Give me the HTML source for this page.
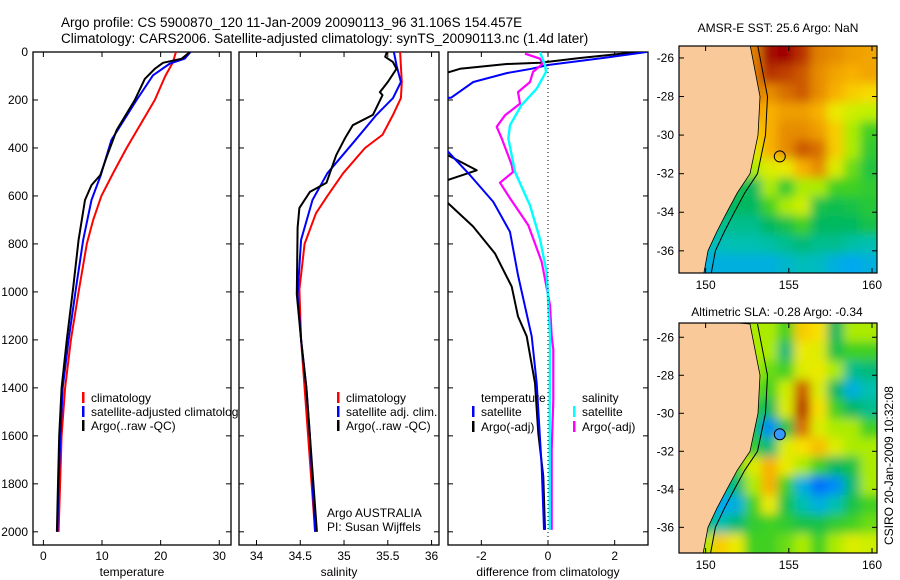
<!DOCTYPE html>
<html><head><meta charset="utf-8">
<style>
html,body{margin:0;padding:0;background:#fff;}
svg{display:block;font-family:"Liberation Sans",sans-serif;}
</style></head>
<body>
<svg id="fig" width="900" height="580" viewBox="0 0 900 580">
<defs>
<filter id="blur" x="-5%" y="-5%" width="110%" height="110%"><feGaussianBlur stdDeviation="5"/></filter>
<clipPath id="cp1"><rect x="33" y="52" width="198" height="493"/></clipPath>
<clipPath id="cp2"><rect x="239" y="52" width="200" height="493"/></clipPath>
<clipPath id="cp3"><rect x="448" y="52" width="200" height="493"/></clipPath>
<clipPath id="cm1"><rect x="679" y="46" width="198" height="227"/></clipPath>
<clipPath id="cm2"><rect x="679" y="323" width="198" height="230"/></clipPath>
</defs>
<text x="61" y="27" font-size="13.5">Argo profile: CS 5900870_120 11-Jan-2009 20090113_96 31.106S 154.457E</text>
<text x="61" y="43" font-size="13.5">Climatology: CARS2006. Satellite-adjusted climatology: synTS_20090113.nc (1.4d later)</text>
<text x="778" y="32" font-size="12" text-anchor="middle">AMSR-E SST: 25.6 Argo: NaN</text>
<text x="777" y="316" font-size="12" text-anchor="middle">Altimetric SLA: -0.28 Argo: -0.34</text>
<text x="0" y="0" font-size="12" transform="translate(893,545) rotate(-90)">CSIRO 20-Jan-2009 10:32:08</text>
<g id="layer"></g>
</svg>
<script>
// ---- Temperature panel data ----
const tempClimDepth=[0,42,100,200,300,400,500,600,700,800,1000,1200,1400,1600,1800,2000];
const tempClim=[22.6,22.1,20.8,19.0,16.6,14.2,12.0,9.9,8.5,7.4,6.0,4.7,3.7,3.1,2.85,2.6];
const tempSatDepth=[0,28,48,97,200,367,513,617,783,978,1200,1400,1600,1800,2000];
const tempSat=[25.1,24.1,21.6,18.7,15.9,11.6,9.8,8.2,6.8,5.6,4.3,3.3,2.9,2.6,2.4];
const tempArgoDepth=[0,28,45,70,112,200,240,325,437,513,555,617,783,978,1200,1400,1600,1800,2000];
const tempArgo=[25,23.6,20.4,19.0,17.3,15.6,14.6,12.5,10.8,9.7,8.2,7.1,6.0,5.1,4.0,3.1,2.7,2.5,2.3];
// ---- Salinity panel data ----
const salClimDepth=[0,125,192,262,345,400,505,600,672,800,990,1200,1400,1600,1800,2000];
const salClim=[35.64,35.66,35.65,35.56,35.44,35.24,34.99,34.81,34.68,34.55,34.49,34.51,34.55,34.59,34.63,34.67];
const salSatDepth=[0,55,125,192,262,372,505,617,783,1010,1200,1400,1600,1800,2000];
const salSat=[35.57,35.60,35.65,35.56,35.37,35.12,34.81,34.64,34.51,34.47,34.51,34.57,34.61,34.64,34.67];
const salArgoDepth=[0,20,42,70,125,167,180,262,305,360,430,545,583,650,733,1010,1200,1400,1600,1800,2000];
const salArgo=[35.49,35.47,35.56,35.60,35.50,35.41,35.44,35.33,35.10,35.01,34.91,34.80,34.61,34.49,34.47,34.46,34.51,34.57,34.61,34.65,34.69];
// ---- Difference panel data ----
const dTempSatDepth=[0,25,54,70,88,125,190,200,400,415,513,625,750,930,1185,1380,1730,1992];
const dTempSat=[2.96,1.65,0.0,-0.5,-1.24,-2.24,-2.9,-3.6,-3.6,-3.0,-2.34,-1.64,-1.14,-0.9,-0.49,-0.34,-0.19,-0.12];
const dTempArgoDepth=[0,25,45,50,70,85,110,420,430,493,533,545,620,630,727,840,978,1102,1185,1380,1590,1770,1992];
const dTempArgo=[2.7,0.96,-0.24,-1.24,-2.64,-3.0,-3.6,-3.6,-3.0,-2.14,-3.0,-3.6,-3.6,-3.0,-2.25,-1.59,-1.09,-0.9,-0.64,-0.39,-0.29,-0.14,-0.09];
const dSalSatDepth=[0,55,83,153,222,305,360,500,640,780,920,1185,1500,1992];
const dSalSat=[-0.24,-0.09,-0.06,-0.34,-0.8,-1.14,-1.19,-0.99,-0.54,-0.24,-0.04,0.06,0.05,0.05];
const dSalArgoDepth=[7,28,48,83,125,167,215,264,312,360,470,500,545,610,722,875,1055,1185,1240,1450,1660,1992];
const dSalArgo=[-0.69,-0.24,-0.15,-0.45,-0.54,-0.9,-0.84,-1.29,-1.54,-1.39,-1.09,-1.05,-1.44,-1.14,-0.59,-0.19,0.06,0.11,0.16,0.16,0.11,0.11];
// ---- tick labels ----
const depthTicks=[0,200,400,600,800,1000,1200,1400,1600,1800,2000];
const tempTicks=[0,10,20,30];
const salTicks=[34,34.5,35,35.5,36];
const diffTicks=[-2,0,2];
const latTicks=[-26,-28,-30,-32,-34,-36];
const lonTicks=[150,155,160];
// ---- map grids (colour index 0..1, rows north->south, cols west->east) ----
const sstGrid=[
[.8,.8,.8,.8,.8,.95,.97,.9,.8,.78,.75,.74],
[.8,.8,.8,.8,.8,.9,.88,.85,.78,.74,.72,.74],
[.8,.8,.8,.8,.8,.78,.82,.85,.78,.72,.68,.66],
[.75,.75,.75,.75,.75,.72,.75,.75,.72,.62,.58,.56],
[.72,.72,.72,.72,.68,.72,.78,.78,.75,.68,.55,.5],
[.65,.65,.65,.65,.6,.72,.78,.85,.82,.68,.55,.48],
[.55,.55,.55,.55,.55,.6,.62,.72,.78,.6,.52,.46],
[.45,.45,.45,.45,.42,.55,.48,.55,.55,.5,.5,.48],
[.42,.42,.42,.42,.42,.5,.55,.58,.45,.44,.45,.47],
[.38,.38,.38,.38,.38,.42,.45,.5,.42,.42,.42,.45],
[.34,.34,.34,.35,.35,.36,.38,.4,.38,.38,.36,.35],
[.3,.3,.3,.3,.3,.3,.32,.34,.33,.3,.28,.3]];
const slaGrid=[
[.55,.55,.55,.55,.55,.55,.5,.68,.65,.42,.55,.55],
[.55,.55,.55,.55,.55,.55,.4,.62,.6,.45,.5,.5],
[.55,.55,.55,.55,.55,.52,.5,.6,.62,.55,.38,.4],
[.55,.55,.55,.55,.52,.5,.58,.85,.6,.42,.3,.35],
[.55,.55,.55,.55,.48,.42,.6,.9,.65,.5,.42,.38],
[.55,.55,.55,.55,.45,.25,.45,.82,.6,.55,.55,.5],
[.55,.55,.55,.55,.48,.4,.6,.65,.7,.6,.55,.55],
[.5,.5,.5,.5,.6,.72,.62,.55,.5,.42,.45,.55],
[.5,.48,.35,.4,.55,.72,.5,.3,.22,.25,.4,.55],
[.48,.4,.28,.3,.5,.62,.45,.35,.3,.35,.45,.5],
[.45,.4,.35,.4,.48,.5,.48,.45,.45,.48,.5,.52],
[.5,.55,.68,.62,.5,.5,.52,.55,.5,.55,.6,.58]];
const coastLat=[-25.3,-28,-30,-32,-33,-34,-35,-36,-37.4];
const coastLon=[152.67,153.27,153.15,152.67,151.9,151.28,150.68,150.14,149.84];

const NS='http://www.w3.org/2000/svg';
const layer=document.getElementById('layer');
function mk(tag,attrs,parent){const e=document.createElementNS(NS,tag);for(const k in attrs)e.setAttribute(k,attrs[k]);(parent||layer).appendChild(e);return e;}
function lin(d0,d1,r0,r1){return v=>r0+(v-d0)*(r1-r0)/(d1-d0);}

const Y0=52,Y1=545;
const yDepth=lin(0,2055,Y0,Y1);

function panel(name,x0,x1,xmin,xmax,xticks,xlabel,showY,clip){
  const g=mk('g',{});
  
  
  const sx=lin(xmin,xmax,x0,x1);
  const fr=mk('rect',{x:x0,y:Y0,width:x1-x0,height:Y1-Y0,fill:'#fff',stroke:'#000','stroke-width':1.3},g);
  
  
  depthTicks.forEach(d=>{
    const y=yDepth(d);
    mk('line',{x1:x0,x2:x0+5,y1:y,y2:y,stroke:'#000'},g);
    mk('line',{x1:x1-5,x2:x1,y1:y,y2:y,stroke:'#000'},g);
    if(showY){const t=mk('text',{x:x0-5,y:y+4,'font-size':12,'text-anchor':'end'},g);t.textContent=d;
      
      }
  });
  xticks.forEach(v=>{
    const x=sx(v);
    mk('line',{x1:x,x2:x,y1:Y1,y2:Y1-5,stroke:'#000'},g);
    mk('line',{x1:x,x2:x,y1:Y0,y2:Y0+5,stroke:'#000'},g);
    const t=mk('text',{x:x,y:Y1+15,'font-size':12,'text-anchor':'middle'},g);t.textContent=v;
    
    
  });
  const xl=mk('text',{x:(x0+x1)/2,y:576,'font-size':12,'text-anchor':'middle'},g);xl.textContent=xlabel;
  
  
  const lg=mk('g',{'clip-path':'url(#'+clip+')'},g);
  return {sx,g,lg};
}
function series(p,vals,depths,color,w,name){
  const pts=vals.map((v,i)=>p.sx(v).toFixed(1)+','+yDepth(depths[i]).toFixed(1)).join(' ');
  const l=mk('polyline',{points:pts,fill:'none',stroke:color,'stroke-width':w,'stroke-linejoin':'round'},p.lg);
  
  
}
function legend(g,x,y,color,label,name){
  mk('rect',{x:x-1,y:y-10,width:2.5,height:11,fill:color},g);
  const t=mk('text',{x:x+8,y:y,'font-size':12},g);t.textContent=label;
  
  
}

// Panel 1
const p1=panel('temperature',33,231,-1.77,32,tempTicks,'temperature',true,'cp1');
series(p1,tempClim,tempClimDepth,'#f00',2,'temp-climatology-line');
series(p1,tempSat,tempSatDepth,'#00f',2,'temp-satellite-line');
series(p1,tempArgo,tempArgoDepth,'#000',2,'temp-argo-line');
legend(p1.g,83,402,'#f00','climatology','legend-climatology');
legend(p1.g,83,416,'#00f','satellite-adjusted climatology','legend-satellite-adjusted');
legend(p1.g,83,430,'#000','Argo(..raw -QC)','legend-argo');
// Panel 2
const p2=panel('salinity',239,439,33.8,36.085,salTicks,'salinity',false,'cp2');
series(p2,salClim,salClimDepth,'#f00',2,'sal-climatology-line');
series(p2,salSat,salSatDepth,'#00f',2,'sal-satellite-line');
series(p2,salArgo,salArgoDepth,'#000',2,'sal-argo-line');
legend(p2.g,338,402,'#f00','climatology','legend-climatology');
legend(p2.g,338,416,'#00f','satellite adj. clim.','legend-satellite-adj');
legend(p2.g,338,430,'#000','Argo(..raw -QC)','legend-argo');
let t=mk('text',{x:327,y:517,'font-size':12},p2.g);t.textContent='Argo AUSTRALIA';


t=mk('text',{x:327,y:531,'font-size':12},p2.g);t.textContent='PI: Susan Wijffels';


// Panel 3
const p3=panel('difference',448,648,-3,3,diffTicks,'difference from climatology',false,'cp3');
mk('line',{x1:p3.sx(0),x2:p3.sx(0),y1:Y0,y2:Y1,stroke:'#000','stroke-dasharray':'1,3'},p3.g);
series(p3,dTempArgo,dTempArgoDepth,'#000',2,'diff-temp-argo-line');
series(p3,dTempSat,dTempSatDepth,'#00f',2,'diff-temp-satellite-line');
series(p3,dSalArgo,dSalArgoDepth,'#f0f',2.2,'diff-sal-argo-line');
series(p3,dSalSat,dSalSatDepth,'#0ff',2.4,'diff-sal-satellite-line');
t=mk('text',{x:481,y:402,'font-size':12},p3.g);t.textContent='temperature';


legend(p3.g,473,416,'#00f','satellite','legend-temp-satellite');
legend(p3.g,473,431,'#000','Argo(-adj)','legend-temp-argo');
t=mk('text',{x:582,y:402,'font-size':12},p3.g);t.textContent='salinity';


legend(p3.g,574,416,'#0ff','satellite','legend-sal-satellite');
legend(p3.g,574,431,'#f0f','Argo(-adj)','legend-sal-argo');

// Maps
const palStops=[0.2,0.28,0.35,0.42,0.5,0.56,0.64,0.72,0.8,0.88,0.96];
const palCols=[[0,96,255],[0,168,240],[0,192,176],[0,184,96],[64,208,32],[192,240,0],[248,232,0],[248,176,0],[224,128,0],[192,64,0],[160,0,0]];
function pal(v){
  if(v<=palStops[0])return 'rgb('+palCols[0].join(',')+')';
  for(let i=1;i<palStops.length;i++){
    if(v<=palStops[i]){const f=(v-palStops[i-1])/(palStops[i]-palStops[i-1]);
      const c=palCols[i-1].map((a,k)=>Math.round(a+(palCols[i][k]-a)*f));
      return 'rgb('+c.join(',')+')';}
  }
  return 'rgb('+palCols[palCols.length-1].join(',')+')';
}
function map(name,x0,x1,y0,y1,latTop,latBot,grid,clip,marker){
  const g=mk('g',{});
  
  
  const sx=lin(148.4,160.3,x0,x1), sy=lin(latTop,latBot,y0,y1);
  const hg=mk('g',{'clip-path':'url(#'+clip+')'},g);
  const bg=mk('g',{filter:'url(#blur)'},hg);
  const nr=grid.length,nc=grid[0].length;
  const cw=(x1-x0)/nc,ch=(y1-y0)/nr;
  grid.forEach((row,i)=>row.forEach((v,j)=>{
    const r=mk('rect',{x:x0+j*cw-0.5-(j==0?10:0),y:y0+i*ch-0.5-(i==0?10:0),width:cw+1+(j==0||j==nc-1?10:0),height:ch+1+(i==0||i==nr-1?10:0),fill:pal(v)},bg);
    
    
  }));
  // land
  let pts=(x0-2)+','+(y0-5)+' ';
  pts+=coastLat.map((la,i)=>sx(coastLon[i]).toFixed(1)+','+sy(la).toFixed(1)).join(' ');
  pts+=' '+(x0-2)+','+(y1+5);
  const land=mk('polygon',{points:pts,fill:'#f9c99a',stroke:'#000','stroke-width':0.8},hg);
  
  
  const shelf=mk('polyline',{points:coastLat.map((la,i)=>sx(coastLon[i]+0.45).toFixed(1)+','+sy(la).toFixed(1)).join(' '),fill:'none',stroke:'#000','stroke-width':1},hg);
  
  
  mk('rect',{x:x0,y:y0,width:x1-x0,height:y1-y0,fill:'none',stroke:'#000','stroke-width':1.2},g);
  latTicks.forEach(la=>{const y=sy(la);
    mk('line',{x1:x0,x2:x0+5,y1:y,y2:y,stroke:'#000'},g);
    mk('line',{x1:x1-5,x2:x1,y1:y,y2:y,stroke:'#000'},g);
    const tt=mk('text',{x:x0-5,y:y+4,'font-size':12,'text-anchor':'end'},g);tt.textContent=la;
    
    });
  lonTicks.forEach(lo=>{const x=sx(lo);
    mk('line',{x1:x,x2:x,y1:y1,y2:y1-5,stroke:'#000'},g);
    mk('line',{x1:x,x2:x,y1:y0,y2:y0+5,stroke:'#000'},g);
    const tt=mk('text',{x:x,y:y1+16,'font-size':12,'text-anchor':'middle'},g);tt.textContent=lo;
    
    });
  const c=mk('circle',{cx:sx(154.457),cy:sy(-31.106),r:5.5,fill:marker,stroke:'#000','stroke-width':1},g);
  
  
}
map('sst-map',679,877,46,273,-25.38,-37.15,sstGrid,'cm1','none');
map('sla-map',679,877,323,553,-25.25,-37.35,slaGrid,'cm2','#3399ff');
</script>
</body></html>
